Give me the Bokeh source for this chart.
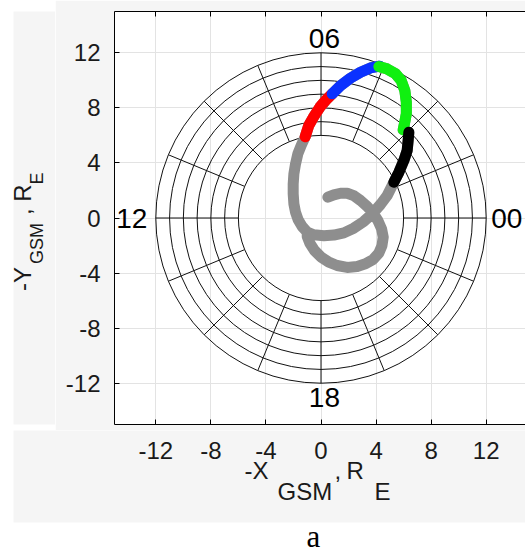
import numpy as np
from bokeh.plotting import figure
from bokeh.models import FixedTicker, LinearAxis, CustomJSTickFormatter, ColumnDataSource
from bokeh.layouts import column, row
from bokeh.core.properties import value
from bokeh.embed import file_html
from bokeh.resources import INLINE

# ---------------- data ----------------
tick_values = [-12, -8, -4, 0, 4, 8, 12]
tick_labels = [str(v) for v in tick_values]
ring_radii = [6, 7, 8, 9, 10, 11, 12]
spoke_inner = 6
spoke_outer = 12
spoke_angles_deg = [i * 22.5 for i in range(16)]
hour_labels = ["00", "06", "12", "18"]
hour_x = [13.5, 0.25, -13.75, 0.25]
hour_y = [0.0, 13.05, 0.0, -13.05]

# trajectory pieces (GSM, R_E)
loop_x = [0.50, 0.93, 1.42, 1.90, 2.38, 2.87, 3.35, 3.79, 4.13, 4.40, 4.52, 4.43, 4.20, 3.79, 3.23,
          2.63, 1.90, 1.17, 0.57, 0.01, -0.47, -0.81, -1.00]
loop_y = [1.51, 1.68, 1.80, 1.80, 1.63, 1.27, 0.84, 0.35, -0.18, -0.79, -1.39, -2.00, -2.55, -3.01, -3.33,
          -3.52, -3.59, -3.45, -3.21, -2.84, -2.36, -1.83, -1.34]
left_x = [-1.00, -1.37, -1.66, -1.85, -1.97, -2.02, -2.02, -1.97, -1.85, -1.68, -1.44, -1.15]
left_y = [-1.03, -0.62, -0.13, 0.42, 1.03, 1.76, 2.48, 3.21, 3.93, 4.66, 5.27, 5.90]
red_x = [-1.15, -0.89, -0.52, -0.08, 0.37, 0.81]
red_y = [5.90, 6.72, 7.37, 8.05, 8.58, 9.02]
blue_x = [0.81, 1.42, 2.14, 2.87, 3.59, 4.25]
blue_y = [9.02, 9.62, 10.16, 10.59, 10.90, 11.03]
green_x = [4.20, 4.80, 5.42, 5.82, 6.09, 6.20, 6.20, 6.06, 5.97]
green_y = [11.00, 10.83, 10.47, 10.00, 9.26, 8.41, 7.57, 6.84, 6.41]
black_x = [6.38, 6.33, 6.26, 6.02, 5.66, 5.29]
black_y = [6.23, 5.63, 4.90, 4.18, 3.33, 2.60]
right_x = [5.29, 4.81, 4.32, 3.72, 3.11, 2.38, 1.66, 0.93, 0.21, -0.52, -1.00]
right_y = [2.60, 1.63, 0.98, 0.30, -0.25, -0.74, -1.08, -1.24, -1.29, -1.22, -1.03]

# axis label pieces
xlabel_parts = ["-X", "GSM", ",", "R", "E"]
ylabel_parts = ["-Y", "GSM", ",", "R", "E"]
caption = "a"

# ---------------- layout geometry (page pixels) ----------------
PAGE_W, PAGE_H = 525, 553
LEFT_PAD = 13               # white margin on the left
P_X0 = 55                   # plot figure starts here
P_W = PAGE_W - P_X0         # 470
P_H = 430
FRAME_L, FRAME_T, FRAME_B = 114, 11, 424
BG_BOTTOM = 522
SCALE = (FRAME_B - FRAME_T) / 30.0
X0 = -15.0
X1 = X0 + (PAGE_W - FRAME_L) / SCALE

def px2x(px):
    return X0 + (px - FRAME_L) / SCALE

FONT = "Liberation Sans"
TXT = "#1a1a1a"
BG = "#f5f5f5"
FS = "24px"
FS_SUB = "18px"

p = figure(width=P_W, height=P_H, x_range=(X0, X1), y_range=(-15, 15),
           output_backend="svg", toolbar_location=None,
           min_border_left=FRAME_L - P_X0, min_border_right=0,
           min_border_top=FRAME_T, min_border_bottom=P_H - FRAME_B)
p.background_fill_color = "white"
p.border_fill_color = BG
p.outline_line_color = None

fmt = CustomJSTickFormatter(code="return tick.toString();")
for ax in (p.xaxis[0], p.yaxis[0]):
    ax.ticker = FixedTicker(ticks=tick_values)
    ax.formatter = fmt
    ax.axis_line_color = "black"
    ax.major_tick_line_color = "black"
    ax.major_tick_in = 5
    ax.major_tick_out = 0
    ax.minor_tick_line_color = None
    ax.major_label_text_font = FONT
    ax.major_label_text_font_size = FS
    ax.major_label_text_color = TXT
    ax.axis_label = None
p.yaxis[0].major_label_standoff = 14
p.xaxis[0].major_label_text_font_size = "0px"
p.xaxis[0].major_label_text_color = None
p.xaxis[0].major_label_standoff = 0

top = LinearAxis(ticker=FixedTicker(ticks=tick_values), axis_line_color="black",
                 major_tick_in=5, major_tick_out=0, minor_tick_line_color=None,
                 major_label_text_font_size="0px", major_label_standoff=0)
top.major_label_text_color = None
p.add_layout(top, "above")

p.grid.ticker = FixedTicker(ticks=tick_values)
p.grid.grid_line_color = "#e3e3e3"
p.grid.grid_line_width = 1

# polar grid
for r in ring_radii:
    p.circle(x=0, y=0, radius=r, fill_color=None, line_color="#111111", line_width=1)
ang = np.deg2rad(np.array(spoke_angles_deg))
p.segment(x0=spoke_inner * np.cos(ang), y0=spoke_inner * np.sin(ang),
          x1=spoke_outer * np.cos(ang), y1=spoke_outer * np.sin(ang),
          line_color="#111111", line_width=1)

# trajectory
W = 11
grey_x = loop_x + left_x + red_x[1:] + blue_x[1:] + green_x + black_x + right_x[1:]
grey_y = loop_y + left_y + red_y[1:] + blue_y[1:] + green_y + black_y + right_y[1:]
p.line(grey_x, grey_y, line_color="#8e8e8e", line_width=W, line_cap="round", line_join="round")
for xs, ys, c in [(red_x, red_y, "#ff0000"), (blue_x, blue_y, "#0a31ff"),
                  (green_x, green_y, "#10f010"), (black_x, black_y, "#000000")]:
    p.line(xs, ys, line_color=c, line_width=W, line_cap="round", line_join="round")

# hour labels
src = ColumnDataSource(dict(x=hour_x, y=hour_y, t=hour_labels))
p.text(x="x", y="y", text="t", source=src, text_font=value(FONT), text_font_size="28px",
       text_align="center", text_baseline="middle", text_color="black")

def plain_fig(w, h, x0, x1, y0, y1, bg):
    f = figure(width=w, height=h, x_range=(x0, x1), y_range=(y0, y1),
               output_backend="svg", toolbar_location=None,
               min_border=0, min_border_left=0, min_border_right=0,
               min_border_top=0, min_border_bottom=0)
    f.axis.visible = False
    f.grid.visible = False
    f.outline_line_color = None
    f.background_fill_color = bg
    f.border_fill_color = bg
    return f

EXT = 10  # background quads overshoot the figure edges to avoid seams

# y label figure: page x 0..55, page y 0..430 (y range reversed = page pixels)
yl = plain_fig(P_X0, P_H, 0, P_X0, P_H, 0, "white")
yl.quad(left=[LEFT_PAD], right=[P_X0 + EXT], top=[-EXT], bottom=[P_H + EXT],
        fill_color=BG, line_color=None)
yl_pos_x = [21.5, 36.5, 21.5, 21.5, 36.5]
yl_pos_y = [291, 263, 212, 198, 180]
yl_size = [FS, FS_SUB, FS, FS, FS_SUB]
yl.text(x=yl_pos_x, y=yl_pos_y, text=ylabel_parts, angle=np.pi / 2, text_font_size=yl_size,
        text_font=value(FONT), text_color=TXT,
        text_align="left", text_baseline="middle")

# bottom figure: page x 0..525 (same x scale as the plot), page y 430..553
bot = plain_fig(PAGE_W, PAGE_H - P_H, px2x(0), X1, PAGE_H, P_H, "white")
bot.quad(left=[px2x(LEFT_PAD)], right=[X1 + 1], top=[P_H - EXT], bottom=[BG_BOTTOM],
         fill_color=BG, line_color=None)
# x tick labels, on the plot's own x scale
bot.text(x=tick_values, y=[450] * len(tick_values), text=tick_labels,
         text_font=value(FONT), text_font_size=FS, text_color=TXT,
         text_align="center", text_baseline="middle")
# x label pieces
xl_pos_x = [px2x(v) for v in (244, 277, 334, 346, 374)]
xl_pos_y = [469.5, 491, 469.5, 469.5, 491]
bot.text(x=xl_pos_x, y=xl_pos_y, text=xlabel_parts,
         text_font=value(FONT), text_font_size=FS, text_color=TXT,
         text_align="left", text_baseline="middle")
# caption
bot.text(x=[px2x(313)], y=[PAGE_H], text=[caption], text_font=value("Liberation Serif"),
         text_font_size="31px", text_align="center", text_baseline="bottom",
         text_color="black")

layout = column(row(yl, p), bot)
open("out.html", "w").write(file_html(layout, INLINE))
